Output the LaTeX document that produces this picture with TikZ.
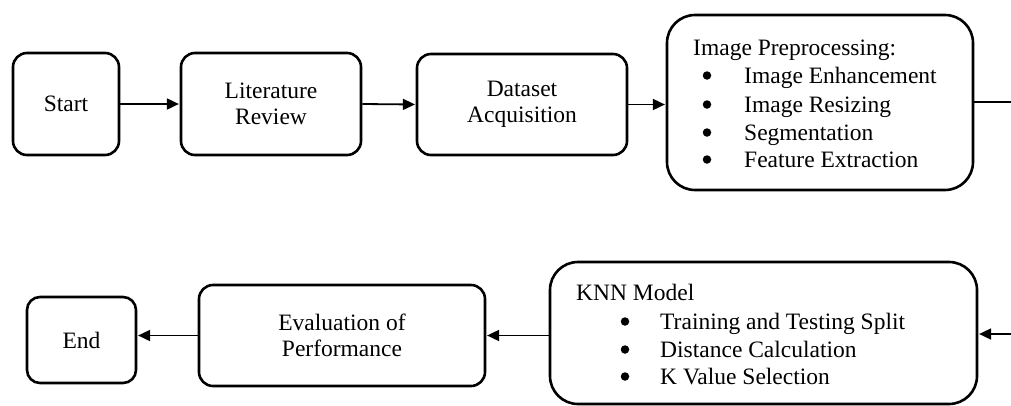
\documentclass[tikz,border=0pt]{standalone}
\usepackage{fontspec}
\setmainfont{Liberation Serif}
\usetikzlibrary{arrows.meta}
\begin{document}
\begin{tikzpicture}[x=1pt,y=-1pt,
  box/.style={draw, line width=2.6pt, rounded corners=#1, inner sep=0pt,
    align=center, font=\fontsize{23.5}{26}\selectfont},
  box/.default=14pt,
  flow/.style={line width=1.8pt, -{Triangle[length=12pt,width=11pt]}, shorten >=0.8pt},
  plain/.style={line width=1.8pt},
  txt/.style={inner sep=0pt, anchor=base west, font=\fontsize{23.5}{28}\selectfont},
  dot/.style={circle, fill, inner sep=0pt, minimum size=8.5pt}
]
\useasboundingbox (0,0) rectangle (1011,405);

% top row
\node[box, minimum width=106pt, minimum height=102pt] (start) at (66,104) {Start};
\node[box, minimum width=180pt, minimum height=102pt] (lit) at (271,104) {Literature\\Review};
\node[box, minimum width=210pt, minimum height=101pt] (data) at (522,104.5) {Dataset\\Acquisition};
\node[box=28pt, minimum width=306pt, minimum height=175pt] (img) at (820,102.5) {};

\node[txt] (imgH) at (693,55) {Image Preprocessing:};
\foreach \y/\t [count=\i] in {83/Image Enhancement, 112/Image Resizing, 140/Segmentation, 167/Feature Extraction}{
  \node[dot] (imgB\i) at (707,\y-7.5) {};
  \node[txt] (imgT\i) at (744,\y) {\t};
}

% bottom row
\node[box=13pt, minimum width=109pt, minimum height=86pt] (end) at (81.5,340) {End};
\node[box, minimum width=286pt, minimum height=101pt] (eval) at (342,335.5) {Evaluation of\\Performance};
\node[box=28pt, minimum width=427pt, minimum height=142pt] (knn) at (763.5,333) {};

\node[txt] (knnH) at (576,300) {KNN Model};
\foreach \y/\t [count=\i] in {329/Training and Testing Split, 357/Distance Calculation, 384/K Value Selection}{
  \node[dot] (knnB\i) at (625,\y-7.5) {};
  \node[txt] (knnT\i) at (660,\y) {\t};
}

% connectors
\coordinate (outR) at (1011,102);
\coordinate (inR) at (1011,334);
\draw[flow] (start.east) -- (lit.west);
\draw[flow] (lit.east) -- (data.west);
\draw[flow] (data.east) -- (data.east -| img.west);
\draw[plain] (img.east |- outR) -- (outR);
\draw[flow] (inR) -- (inR -| knn.east);
\draw[flow] (eval.east -| knn.west) -- (eval.east);
\draw[flow] (eval.west) -- (eval.west -| end.east);
\end{tikzpicture}
\end{document}
